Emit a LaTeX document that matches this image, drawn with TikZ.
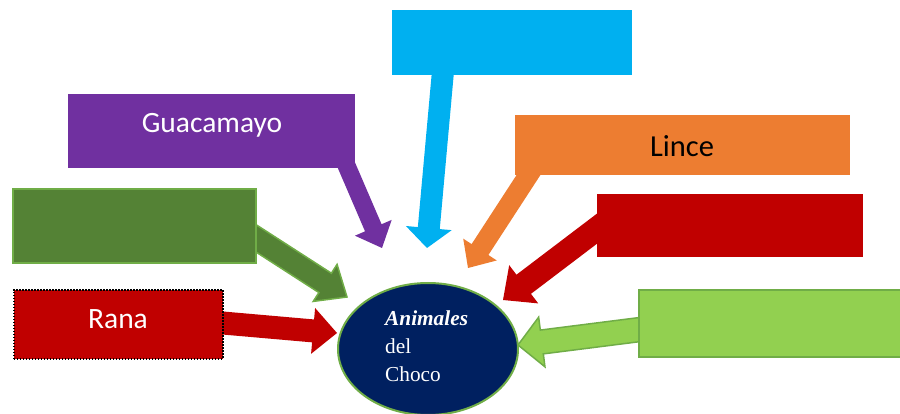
\documentclass[tikz,border=0pt]{standalone}
\usepackage{fontspec}
\setmainfont{Carlito}
\newfontfamily\centrefont{Liberation Serif}
\usetikzlibrary{calc,shapes.geometric}
\pgfdeclarelayer{bg}\pgfsetlayers{bg,main}
\definecolor{cCyan}{HTML}{00B0F0}
\definecolor{cPurple}{HTML}{7030A0}
\definecolor{cDark}{HTML}{548235}
\definecolor{cBorder}{HTML}{70AD47}
\definecolor{cRed}{HTML}{C00000}
\definecolor{cOrange}{HTML}{ED7D31}
\definecolor{cLight}{HTML}{92D050}
\definecolor{cNavy}{HTML}{002060}
% #1 name, #2 start, #3 tip, #4 shaft half width, #5 head half width, #6 head length, #7 style
\newcommand\blockarrow[7]{%
  \coordinate (#1n) at ($(#3)!#6!(#2)$);
  \path[#7] ($(#2)!#4!90:(#3)$) -- ($(#1n)!#4!90:(#3)$) -- ($(#1n)!#5!90:(#3)$) -- (#3)
    -- ($(#1n)!#5!-90:(#3)$) -- ($(#1n)!#4!-90:(#3)$) -- ($(#2)!#4!-90:(#3)$) -- cycle;}
\begin{document}
\begin{tikzpicture}[x=1pt,y=-1pt,
  box/.style={rectangle, inner sep=0pt, anchor=north west},
  lbl/.style={inner sep=0pt, anchor=base, font=\fontsize{29.5}{32}\selectfont}]
\useasboundingbox (0,0) rectangle (900,414);
% boxes
\node[box, fill=cCyan, minimum width=240, minimum height=65] (bcyan) at (392,10) {};
\node[box, fill=cPurple, minimum width=287, minimum height=74] (bpurple) at (68,94) {};
\node[lbl, text=white] (tguaca) at (212,133) {Guacamayo};
\node[box, fill=cDark, draw=cBorder, line width=2, minimum width=243, minimum height=74] (bdark) at (12,188) {};
\node[box, fill=cRed, draw=black, line width=1.6, dash pattern=on 1.6pt off 1.4pt, minimum width=209, minimum height=69] (brana) at (13,289) {};
\node[lbl, text=white] (trana) at (118,328) {Rana};
\node[box, fill=cOrange, minimum width=335, minimum height=60] (borange) at (515,115) {};
\node[lbl, text=black, font=\fontsize{30.5}{32}\selectfont] (tlince) at (682,157) {Lince};
\node[box, fill=cRed, minimum width=266, minimum height=63] (bred) at (597,194) {};
\node[box, fill=cLight, draw=cBorder, line width=2, minimum width=264, minimum height=67] (blight) at (638,289) {};
% centre
\node[ellipse, fill=cNavy, draw=cBorder, line width=2, minimum width=180, minimum height=132, inner sep=0pt] (centro) at (428,349) {};
\node[anchor=west, inner sep=0pt, text=white, align=left, font=\centrefont\fontsize{21.3}{28}\selectfont] (tcentro) at (385,346) {\textbf{\textit{Animales}}\\del\\Choco};
% arrow ends
\coordinate (s1) at (200,321);  \coordinate (t1) at (337,333);
\coordinate (s2) at (240,228);  \coordinate (t2) at (347,297);
\coordinate (s3) at (342,155);  \coordinate (t3) at (382,248);
\coordinate (s4) at (444,60);   \coordinate (t4) at (427,248);
\coordinate (s5) at (535,165);  \coordinate (t5) at (468,268);
\coordinate (s6) at (615,215);  \coordinate (t6) at (503,300);
\coordinate (s7) at (660,327);  \coordinate (t7) at (518,345);
\begin{pgfonlayer}{bg}
\blockarrow{a1}{s1}{t1}{11.5pt}{23pt}{24pt}{fill=cRed}
\blockarrow{a2}{s2}{t2}{11.5pt}{22pt}{26pt}{fill=cDark, draw=cBorder, line width=1.5}
\blockarrow{a3}{s3}{t3}{9pt}{20pt}{22pt}{fill=cPurple}
\blockarrow{a4}{s4}{t4}{11pt}{23pt}{20pt}{fill=cCyan}
\blockarrow{a5}{s5}{t5}{10pt}{20pt}{22pt}{fill=cOrange}
\blockarrow{a6}{s6}{t6}{12pt}{24pt}{26pt}{fill=cRed}
\blockarrow{a7}{s7}{t7}{12pt}{25pt}{24pt}{fill=cLight, draw=cBorder, line width=1.5}
\end{pgfonlayer}
\end{tikzpicture}
\end{document}
